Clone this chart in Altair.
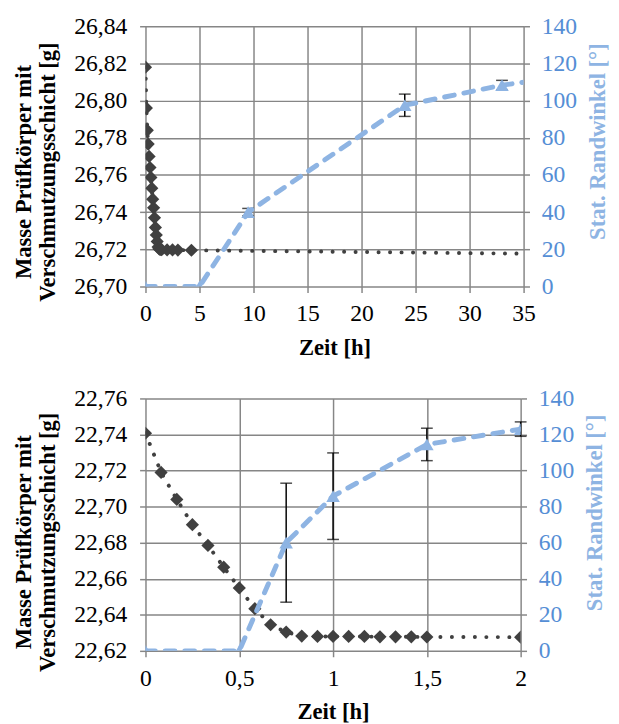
import altair as alt
import pandas as pd

FONT = "Nimbus Roman"
GRAY = "#868686"
DARK = "#404040"
BLUE = "#8EB4E3"
BLUE_LBL = "#558ED5"

# ---------- top panel ----------
m1_t = [0, 0.083, 0.167, 0.25, 0.333, 0.417, 0.5, 0.583, 0.667, 0.75, 0.833, 0.917,
        1.0, 1.083, 1.167, 1.25, 1.333, 1.417, 1.5, 2.0, 2.5, 3.0, 4.25, 48]
m1_v = [26.818, 26.796, 26.784, 26.7766, 26.770, 26.764, 26.7587, 26.7529, 26.747,
        26.7423, 26.737, 26.7318, 26.7277, 26.7242, 26.7212, 26.7203, 26.7200, 26.7199,
        26.7198, 26.7197, 26.7197, 26.7196, 26.7195, 26.7169]
a1_t = [0, 5, 9.5, 24, 33, 48]
a1_v = [0, 0, 40, 97.5, 108.3, 120]
a1_e = [0, 0, 2, 6, 2.6, 0]
x1_ticks = [0, 5, 10, 15, 20, 25, 30, 35]
y1_ticks = [26.70, 26.72, 26.74, 26.76, 26.78, 26.80, 26.82, 26.84]

# ---------- bottom panel ----------
m2_t = [0, 0.083, 0.167, 0.25, 0.333, 0.417, 0.5, 0.583, 0.667, 0.75, 0.833, 0.917,
        1.0, 1.083, 1.167, 1.25, 1.333, 1.417, 1.5, 2.0]
m2_v = [22.7407, 22.719, 22.704, 22.690, 22.6785, 22.6664, 22.6549, 22.6434, 22.6345,
        22.6304, 22.6282, 22.628, 22.628, 22.628, 22.628, 22.6278, 22.6278, 22.6278,
        22.6277, 22.6276]
a2_t = [0, 0.5, 0.75, 1.0, 1.5, 2.0]
a2_v = [0, 0, 60, 85.8, 114.5, 123]
a2_e = [0, 0, 33, 24, 9, 4]
x2_ticks = [0, 0.5, 1, 1.5, 2]
y2_ticks = [22.62, 22.64, 22.66, 22.68, 22.70, 22.72, 22.74, 22.76]

a_ticks = [0, 20, 40, 60, 80, 100, 120, 140]

LEFT_TITLE = ["Masse Prüfkörper mit", "Verschmutzungsschicht [g]"]
RIGHT_TITLE = "Stat. Randwinkel [°]"


def panel(mt, mv, at, av, ae, xdom, xticks, ydom, yticks, w, h, xfmt, ty, ry):
    mdf = pd.DataFrame({"t": mt, "m": mv})
    adf = pd.DataFrame({"t": at, "a": av, "e": ae})
    adf["lo"] = adf["a"] - adf["e"]
    adf["hi"] = adf["a"] + adf["e"]
    edf = adf[(adf["e"] > 0) & (adf["t"] <= xdom[1])]

    xaxis = alt.Axis(values=xticks, labelExpr=xfmt, title="Zeit [h]", grid=True,
                     titlePadding=11, labelPadding=10)
    xsc = alt.Scale(domain=xdom, nice=False, zero=False)

    def X():
        return alt.X("t:Q", scale=xsc, axis=xaxis)

    maxis = alt.Axis(values=yticks, orient="left", grid=True, title=LEFT_TITLE,
                     titleY=ty, titlePadding=15, labelPadding=13,
                     labelExpr="replace(format(datum.value, '.2f'), '.', ',')")
    msc = alt.Scale(domain=ydom, nice=False, zero=False)

    aaxis = alt.Axis(values=a_ticks, orient="right", grid=False, title=RIGHT_TITLE,
                     titleColor=BLUE, labelColor=BLUE_LBL, titleAngle=270,
                     titleBaseline="top", titlePadding=10, titleY=ry, labelPadding=12)
    asc = alt.Scale(domain=[0, 140], nice=False, zero=False)

    mline = alt.Chart(mdf).mark_line(color=DARK, strokeWidth=4, strokeDash=[0.1, 11.6],
                                     strokeCap="round", clip=True).encode(
        x=X(), y=alt.Y("m:Q", scale=msc, axis=maxis))
    mpts = alt.Chart(mdf).mark_point(shape="diamond", filled=True, size=180, color=DARK,
                                     opacity=1, clip=True).encode(
        x=X(), y=alt.Y("m:Q", scale=msc, axis=maxis))

    erule = alt.Chart(edf).mark_rule(color="black", strokeWidth=1.5).encode(
        x=X(), y=alt.Y("lo:Q", scale=asc, axis=aaxis), y2="hi:Q")
    etick = alt.Chart(edf).transform_fold(["lo", "hi"], as_=["k", "v"]).mark_tick(
        orient="horizontal", size=12, thickness=1.5, color="black").encode(
        x=X(), y=alt.Y("v:Q", scale=asc, axis=aaxis))
    aline = alt.Chart(adf).mark_line(color=BLUE, strokeWidth=5, strokeDash=[10, 10],
                                     strokeCap="round", clip=True).encode(
        x=X(), y=alt.Y("a:Q", scale=asc, axis=aaxis))
    apts = alt.Chart(adf).mark_point(shape="triangle-up", filled=True, size=190, color=BLUE,
                                     opacity=1, clip=True).encode(
        x=X(), y=alt.Y("a:Q", scale=asc, axis=aaxis))

    return alt.layer(
        alt.layer(mline, mpts),
        alt.layer(erule, etick, aline, apts),
    ).resolve_scale(y="independent").properties(width=w, height=h)


top = panel(m1_t, m1_v, a1_t, a1_v, a1_e, [0, 35], x1_ticks, [26.70, 26.84], y1_ticks,
            385, 265, "format(datum.value, 'd')", 148, 117)
bottom = panel(m2_t, m2_v, a2_t, a2_v, a2_e, [0, 2], x2_ticks, [22.62, 22.76], y2_ticks,
               382, 257, "replace(format(datum.value, '~g'), '.', ',')", 146, 116)

chart = alt.vconcat(top, bottom, spacing=28).properties(
    padding={"left": 5, "top": 0, "right": 2, "bottom": 0}
).configure_axis(
    labelFont=FONT, titleFont=FONT, labelFontSize=24, titleFontSize=23,
    labelColor="black", titleColor="black", titleFontWeight="bold",
    gridColor=GRAY, gridWidth=1.5, tickColor=GRAY, tickWidth=1.5, tickSize=6,
    domain=False, labelFlush=False, labelOverlap=False,
    titleLineHeight=24,
).configure_view(stroke=None)

chart.save("out.html", embed_options={"renderer": "svg", "actions": False})
